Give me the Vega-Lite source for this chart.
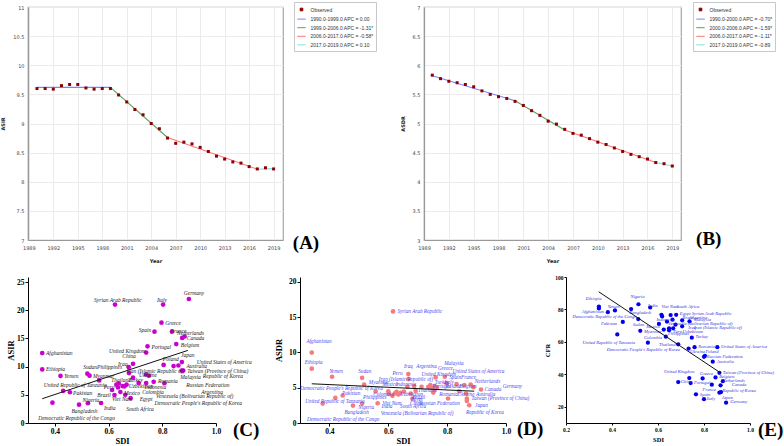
{
"$schema": "https://vega.github.io/schema/vega-lite/v6.json",
"padding": 0,
"background": "white",
"spacing": 11,
"align": "none",
"config": {"view": {"stroke": null}, "font": "Liberation Serif", "axis": {"labelOverlap": false, "labelFlush": false}},
"datasets": {
"aObs": [
{"year":1990,"value":9.60,"series":"Observed"},{"year":1991,"value":9.60,"series":"Observed"},{"year":1992,"value":9.59,"series":"Observed"},{"year":1993,"value":9.65,"series":"Observed"},{"year":1994,"value":9.67,"series":"Observed"},{"year":1995,"value":9.67,"series":"Observed"},{"year":1996,"value":9.61,"series":"Observed"},{"year":1997,"value":9.59,"series":"Observed"},{"year":1998,"value":9.60,"series":"Observed"},{"year":1999,"value":9.60,"series":"Observed"},{"year":2000,"value":9.49,"series":"Observed"},{"year":2001,"value":9.37,"series":"Observed"},{"year":2002,"value":9.24,"series":"Observed"},{"year":2003,"value":9.15,"series":"Observed"},{"year":2004,"value":9.00,"series":"Observed"},{"year":2005,"value":8.91,"series":"Observed"},{"year":2006,"value":8.75,"series":"Observed"},{"year":2007,"value":8.66,"series":"Observed"},{"year":2008,"value":8.68,"series":"Observed"},{"year":2009,"value":8.65,"series":"Observed"},{"year":2010,"value":8.59,"series":"Observed"},{"year":2011,"value":8.52,"series":"Observed"},{"year":2012,"value":8.44,"series":"Observed"},{"year":2013,"value":8.39,"series":"Observed"},{"year":2014,"value":8.34,"series":"Observed"},{"year":2015,"value":8.32,"series":"Observed"},{"year":2016,"value":8.26,"series":"Observed"},{"year":2017,"value":8.22,"series":"Observed"},{"year":2018,"value":8.24,"series":"Observed"},{"year":2019,"value":8.22,"series":"Observed"}
],
"aFit": [
{"year":1990,"value":9.62,"series":"1990.0-1999.0 APC = 0.00"},{"year":1999,"value":9.62,"series":"1990.0-1999.0 APC = 0.00"},
{"year":1999,"value":9.62,"series":"1999.0-2006.0 APC = -1.31*"},{"year":2006,"value":8.76,"series":"1999.0-2006.0 APC = -1.31*"},
{"year":2006,"value":8.76,"series":"2006.0-2017.0 APC = -0.58*"},{"year":2017,"value":8.215,"series":"2006.0-2017.0 APC = -0.58*"},
{"year":2017,"value":8.215,"series":"2017.0-2019.0 APC = 0.10"},{"year":2019,"value":8.225,"series":"2017.0-2019.0 APC = 0.10"}
],
"bObs": [
{"year":1990,"value":5.83,"series":"Observed"},{"year":1991,"value":5.77,"series":"Observed"},{"year":1992,"value":5.725,"series":"Observed"},{"year":1993,"value":5.70,"series":"Observed"},{"year":1994,"value":5.67,"series":"Observed"},{"year":1995,"value":5.63,"series":"Observed"},{"year":1996,"value":5.56,"series":"Observed"},{"year":1997,"value":5.50,"series":"Observed"},{"year":1998,"value":5.46,"series":"Observed"},{"year":1999,"value":5.43,"series":"Observed"},{"year":2000,"value":5.38,"series":"Observed"},{"year":2001,"value":5.31,"series":"Observed"},{"year":2002,"value":5.22,"series":"Observed"},{"year":2003,"value":5.14,"series":"Observed"},{"year":2004,"value":5.04,"series":"Observed"},{"year":2005,"value":4.99,"series":"Observed"},{"year":2006,"value":4.90,"series":"Observed"},{"year":2007,"value":4.83,"series":"Observed"},{"year":2008,"value":4.80,"series":"Observed"},{"year":2009,"value":4.74,"series":"Observed"},{"year":2010,"value":4.68,"series":"Observed"},{"year":2011,"value":4.64,"series":"Observed"},{"year":2012,"value":4.58,"series":"Observed"},{"year":2013,"value":4.52,"series":"Observed"},{"year":2014,"value":4.47,"series":"Observed"},{"year":2015,"value":4.43,"series":"Observed"},{"year":2016,"value":4.39,"series":"Observed"},{"year":2017,"value":4.33,"series":"Observed"},{"year":2018,"value":4.31,"series":"Observed"},{"year":2019,"value":4.27,"series":"Observed"}
],
"bFit": [
{"year":1990,"value":5.82,"series":"1990.0-2000.0 APC = -0.70*"},{"year":2000,"value":5.39,"series":"1990.0-2000.0 APC = -0.70*"},
{"year":2000,"value":5.39,"series":"2000.0-2006.0 APC = -1.59*"},{"year":2006,"value":4.89,"series":"2000.0-2006.0 APC = -1.59*"},
{"year":2006,"value":4.89,"series":"2006.0-2017.0 APC = -1.11*"},{"year":2017,"value":4.33,"series":"2006.0-2017.0 APC = -1.11*"},
{"year":2017,"value":4.33,"series":"2017.0-2019.0 APC = -0.89"},{"year":2019,"value":4.27,"series":"2017.0-2019.0 APC = -0.89"}
],
"cPts": [
{"country":"Afghanistan","sdi":0.353,"asir":12.4,"lx":0.367,"ly":12.35},
{"country":"Ethiopia","sdi":0.353,"asir":9.5,"lx":0.367,"ly":9.5},
{"country":"Yemen","sdi":0.421,"asir":8.35,"lx":0.435,"ly":8.3},
{"country":"Democratic Republic of the Congo","sdi":0.391,"asir":3.6,"lx":0.338,"ly":0.95},
{"country":"United Republic of Tanzania","sdi":0.431,"asir":5.7,"lx":0.359,"ly":6.75},
{"country":"Pakistan","sdi":0.456,"asir":5.45,"lx":0.468,"ly":5.3},
{"country":"Bangladesh","sdi":0.49,"asir":3.25,"lx":0.462,"ly":2.1},
{"country":"Nigeria","sdi":0.523,"asir":3.5,"lx":0.503,"ly":4.15},
{"country":"Sudan","sdi":0.521,"asir":8.75,"lx":0.506,"ly":9.9},
{"country":"Philippines","sdi":0.529,"asir":8.4,"lx":0.557,"ly":9.9},
{"country":"Myanmar","sdi":0.565,"asir":7.55,"lx":0.542,"ly":8.3},
{"country":"India","sdi":0.572,"asir":3.55,"lx":0.583,"ly":2.65},
{"country":"Brazil","sdi":0.613,"asir":5.85,"lx":0.558,"ly":4.95},
{"country":"Viet Nam","sdi":0.622,"asir":4.95,"lx":0.613,"ly":4.2},
{"country":"Syrian Arab Republic","sdi":0.624,"asir":21.0,"lx":0.546,"ly":21.9},
{"country":"Peru","sdi":0.629,"asir":6.8,"lx":0.582,"ly":6.4},
{"country":"Thailand","sdi":0.638,"asir":7.0,"lx":0.61,"ly":7.7},
{"country":"Uzbekistan","sdi":0.635,"asir":6.3,"lx":0.675,"ly":6.5},
{"country":"Mexico","sdi":0.644,"asir":5.5,"lx":0.657,"ly":5.4},
{"country":"Colombia","sdi":0.652,"asir":6.55,"lx":0.725,"ly":5.55},
{"country":"Democratic People's Republic of Korea","sdi":0.659,"asir":6.5,"lx":0.771,"ly":3.55},
{"country":"Indonesia","sdi":0.667,"asir":6.8,"lx":0.734,"ly":6.4},
{"country":"Egypt","sdi":0.662,"asir":5.0,"lx":0.716,"ly":4.2},
{"country":"South Africa","sdi":0.682,"asir":4.4,"lx":0.666,"ly":2.5},
{"country":"Iraq","sdi":0.675,"asir":9.9,"lx":0.635,"ly":10.5},
{"country":"Iran (Islamic Republic of)","sdi":0.676,"asir":8.85,"lx":0.668,"ly":9.2},
{"country":"China","sdi":0.691,"asir":10.5,"lx":0.651,"ly":11.8},
{"country":"Turkey","sdi":0.691,"asir":8.05,"lx":0.672,"ly":7.7},
{"country":"Venezuela (Bolivarian Republic of)","sdi":0.712,"asir":7.1,"lx":0.777,"ly":4.85},
{"country":"Malaysia","sdi":0.74,"asir":8.6,"lx":0.867,"ly":8.1},
{"country":"Ukraine","sdi":0.75,"asir":8.4,"lx":0.713,"ly":8.5},
{"country":"Argentina","sdi":0.74,"asir":7.1,"lx":0.945,"ly":5.55},
{"country":"Romania","sdi":0.768,"asir":7.3,"lx":0.784,"ly":7.45},
{"country":"Russian Federation","sdi":0.808,"asir":7.05,"lx":0.889,"ly":6.7},
{"country":"United Kingdom","sdi":0.74,"asir":12.5,"lx":0.602,"ly":12.8},
{"country":"Portugal","sdi":0.745,"asir":13.6,"lx":0.76,"ly":13.5},
{"country":"Spain","sdi":0.771,"asir":16.2,"lx":0.712,"ly":16.5},
{"country":"Greece","sdi":0.797,"asir":17.8,"lx":0.811,"ly":17.7},
{"country":"Italy","sdi":0.803,"asir":21.0,"lx":0.78,"ly":21.75},
{"country":"France","sdi":0.836,"asir":16.2,"lx":0.831,"ly":16.4},
{"country":"Canada","sdi":0.874,"asir":15.1,"lx":0.891,"ly":15.1},
{"country":"Netherlands","sdi":0.883,"asir":15.35,"lx":0.855,"ly":15.9},
{"country":"Belgium","sdi":0.852,"asir":14.0,"lx":0.869,"ly":13.9},
{"country":"Germany","sdi":0.899,"asir":22.0,"lx":0.88,"ly":23.1},
{"country":"Japan","sdi":0.873,"asir":10.8,"lx":0.87,"ly":12.0},
{"country":"Poland","sdi":0.805,"asir":10.3,"lx":0.802,"ly":11.3},
{"country":"United States of America","sdi":0.842,"asir":10.1,"lx":0.928,"ly":10.9},
{"country":"Australia","sdi":0.86,"asir":10.2,"lx":0.89,"ly":10.05},
{"country":"Taiwan (Province of China)","sdi":0.872,"asir":9.3,"lx":0.893,"ly":9.2},
{"country":"Republic of Korea","sdi":0.878,"asir":9.3,"lx":0.951,"ly":8.3}
],
"cFit": [{"sdi":0.353,"value":4.31},{"sdi":0.895,"value":12.88}],
"dPts": [
{"country":"Afghanistan","sdi":0.34,"asdr":9.98,"lx":0.322,"ly":11.64},
{"country":"Ethiopia","sdi":0.34,"asdr":7.7,"lx":0.316,"ly":8.65},
{"country":"Yemen","sdi":0.409,"asdr":6.56,"lx":0.4,"ly":7.36},
{"country":"Sudan","sdi":0.511,"asdr":6.41,"lx":0.498,"ly":7.36},
{"country":"Myanmar","sdi":0.518,"asdr":5.46,"lx":0.534,"ly":5.75},
{"country":"Philippines","sdi":0.557,"asdr":4.47,"lx":0.514,"ly":3.71},
{"country":"Pakistan","sdi":0.445,"asdr":3.9,"lx":0.443,"ly":4.32},
{"country":"United Republic of Tanzania","sdi":0.42,"asdr":3.56,"lx":0.318,"ly":3.09},
{"country":"Democratic Republic of the Congo","sdi":0.377,"asdr":2.76,"lx":0.324,"ly":0.52},
{"country":"Bangladesh","sdi":0.48,"asdr":2.47,"lx":0.451,"ly":1.52},
{"country":"Nigeria","sdi":0.511,"asdr":2.76,"lx":0.498,"ly":2.28},
{"country":"India","sdi":0.564,"asdr":2.8,"lx":0.577,"ly":2.42},
{"country":"Syrian Arab Republic","sdi":0.616,"asdr":15.82,"lx":0.631,"ly":15.82},
{"country":"Colombia","sdi":0.602,"asdr":4.13,"lx":0.549,"ly":4.09},
{"country":"Brazil","sdi":0.614,"asdr":3.85,"lx":0.682,"ly":3.7},
{"country":"Viet Nam","sdi":0.622,"asdr":4.18,"lx":0.58,"ly":2.9},
{"country":"Peru","sdi":0.628,"asdr":4.42,"lx":0.614,"ly":7.03},
{"country":"Thailand","sdi":0.634,"asdr":4.04,"lx":0.701,"ly":4.66},
{"country":"Uzbekistan","sdi":0.642,"asdr":4.28,"lx":0.64,"ly":4.09},
{"country":"Mexico","sdi":0.653,"asdr":4.47,"lx":0.58,"ly":5.46},
{"country":"Indonesia","sdi":0.665,"asdr":5.13,"lx":0.625,"ly":5.46},
{"country":"Iraq","sdi":0.668,"asdr":6.94,"lx":0.653,"ly":8.08},
{"country":"Iran (Islamic Republic of)","sdi":0.668,"asdr":6.22,"lx":0.568,"ly":6.22},
{"country":"China","sdi":0.688,"asdr":5.23,"lx":0.674,"ly":2.9},
{"country":"Turkey","sdi":0.693,"asdr":4.56,"lx":0.758,"ly":5.84},
{"country":"Egypt","sdi":0.676,"asdr":4.18,"lx":0.676,"ly":3.47},
{"country":"South Africa","sdi":0.682,"asdr":3.47,"lx":0.64,"ly":2.42},
{"country":"Venezuela (Bolivarian Republic of)","sdi":0.713,"asdr":5.13,"lx":0.574,"ly":1.38},
{"country":"Malaysia","sdi":0.736,"asdr":5.13,"lx":0.79,"ly":8.55},
{"country":"Ukraine","sdi":0.743,"asdr":5.37,"lx":0.835,"ly":4.09},
{"country":"Argentina","sdi":0.748,"asdr":4.99,"lx":0.695,"ly":8.08},
{"country":"Romania","sdi":0.753,"asdr":4.32,"lx":0.773,"ly":4.09},
{"country":"Portugal","sdi":0.757,"asdr":5.23,"lx":0.75,"ly":5.23},
{"country":"United Kingdom","sdi":0.761,"asdr":6.46,"lx":0.713,"ly":6.94},
{"country":"Spain","sdi":0.792,"asdr":6.56,"lx":0.807,"ly":6.56},
{"country":"France","sdi":0.798,"asdr":5.6,"lx":0.847,"ly":6.56},
{"country":"Greece","sdi":0.765,"asdr":5.04,"lx":0.769,"ly":7.79},
{"country":"Italy","sdi":0.757,"asdr":4.85,"lx":0.79,"ly":5.84},
{"country":"Netherlands","sdi":0.88,"asdr":5.46,"lx":0.894,"ly":5.94},
{"country":"Belgium","sdi":0.858,"asdr":5.37,"lx":0.841,"ly":5.23},
{"country":"United States of America","sdi":0.832,"asdr":5.51,"lx":0.818,"ly":7.32},
{"country":"Canada","sdi":0.889,"asdr":5.08,"lx":0.928,"ly":4.8},
{"country":"Germany","sdi":0.915,"asdr":4.75,"lx":0.989,"ly":5.27},
{"country":"Australia","sdi":0.864,"asdr":4.18,"lx":0.898,"ly":4.18},
{"country":"Taiwan (Province of China)","sdi":0.867,"asdr":3.13,"lx":0.883,"ly":3.56},
{"country":"Japan","sdi":0.867,"asdr":3.47,"lx":0.895,"ly":2.57},
{"country":"Republic of Korea","sdi":0.875,"asdr":2.52,"lx":0.864,"ly":1.57},
{"country":"Poland","sdi":0.841,"asdr":4.5,"lx":0.795,"ly":5.23},
{"country":"Russian Federation","sdi":0.803,"asdr":3.47,"lx":0.705,"ly":2.9},
{"country":"Democratic People's Republic of Korea","sdi":0.6,"asdr":4.5,"lx":0.301,"ly":4.99}
],
"dFit": [{"sdi":0.34,"value":5.56},{"sdi":0.892,"value":4.51}],
"ePts": [
{"country":"Ethiopia","sdi":0.343,"cfr":81.8,"lx":0.286,"ly":86.4},
{"country":"Afghanistan","sdi":0.343,"cfr":80.6,"lx":0.269,"ly":78.7},
{"country":"Democratic Republic of the Congo","sdi":0.382,"cfr":78.3,"lx":0.228,"ly":75.3},
{"country":"Yemen","sdi":0.413,"cfr":79.4,"lx":0.381,"ly":81.8},
{"country":"Pakistan","sdi":0.447,"cfr":72.3,"lx":0.352,"ly":71.1},
{"country":"United Republic of Tanzania","sdi":0.423,"cfr":64.6,"lx":0.272,"ly":59.5},
{"country":"Bangladesh","sdi":0.483,"cfr":80.2,"lx":0.476,"ly":78.1},
{"country":"Nigeria","sdi":0.515,"cfr":83.2,"lx":0.48,"ly":87.4},
{"country":"Sudan","sdi":0.514,"cfr":74.1,"lx":0.49,"ly":70.6},
{"country":"Myanmar","sdi":0.523,"cfr":66.8,"lx":0.539,"ly":66.4},
{"country":"Democratic People's Republic of Korea","sdi":0.556,"cfr":59.5,"lx":0.377,"ly":54.9},
{"country":"India","sdi":0.566,"cfr":81.2,"lx":0.556,"ly":82.2},
{"country":"Viet Nam","sdi":0.615,"cfr":76.7,"lx":0.615,"ly":81.4},
{"country":"Indonesia","sdi":0.618,"cfr":75.7,"lx":0.593,"ly":73.7},
{"country":"Mexico","sdi":0.604,"cfr":71.1,"lx":0.549,"ly":69.2},
{"country":"Colombia","sdi":0.625,"cfr":67.6,"lx":0.539,"ly":62.6},
{"country":"Philippines","sdi":0.634,"cfr":63.2,"lx":0.644,"ly":64.6},
{"country":"Peru","sdi":0.648,"cfr":67.2,"lx":0.666,"ly":66.4},
{"country":"Uzbekistan","sdi":0.666,"cfr":68.4,"lx":0.707,"ly":66.4},
{"country":"Venezuela (Bolivarian Republic of)","sdi":0.648,"cfr":68.4,"lx":0.644,"ly":71.3},
{"country":"Brazil","sdi":0.663,"cfr":73.7,"lx":0.707,"ly":74.7},
{"country":"South Africa","sdi":0.655,"cfr":76.5,"lx":0.68,"ly":81.4},
{"country":"Egypt","sdi":0.679,"cfr":76.7,"lx":0.695,"ly":77.1},
{"country":"Iraq","sdi":0.676,"cfr":70.6,"lx":0.731,"ly":68.8},
{"country":"Iran (Islamic Republic of)","sdi":0.705,"cfr":69.6,"lx":0.756,"ly":68.4},
{"country":"Argentina","sdi":0.705,"cfr":73.3,"lx":0.735,"ly":75.0},
{"country":"Malaysia","sdi":0.737,"cfr":72.7,"lx":0.756,"ly":73.7},
{"country":"Syrian Arab Republic","sdi":0.639,"cfr":72.5,"lx":0.747,"ly":77.3},
{"country":"Thailand","sdi":0.688,"cfr":58.5,"lx":0.604,"ly":57.9},
{"country":"Turkey","sdi":0.747,"cfr":62.6,"lx":0.763,"ly":62.8},
{"country":"Ukraine","sdi":0.733,"cfr":55.9,"lx":0.739,"ly":53.6},
{"country":"Romania","sdi":0.759,"cfr":56.7,"lx":0.775,"ly":56.7},
{"country":"United States of America","sdi":0.858,"cfr":56.7,"lx":0.874,"ly":56.7},
{"country":"Russian Federation","sdi":0.8,"cfr":50.8,"lx":0.812,"ly":50.8},
{"country":"Poland","sdi":0.804,"cfr":51.4,"lx":0.806,"ly":53.6},
{"country":"Australia","sdi":0.838,"cfr":47.8,"lx":0.855,"ly":47.8},
{"country":"Taiwan (Province of China)","sdi":0.867,"cfr":40.9,"lx":0.882,"ly":40.9},
{"country":"United Kingdom","sdi":0.736,"cfr":37.7,"lx":0.626,"ly":41.3},
{"country":"China","sdi":0.688,"cfr":35.2,"lx":0.699,"ly":35.2},
{"country":"Portugal","sdi":0.742,"cfr":34.6,"lx":0.756,"ly":34.6},
{"country":"Greece","sdi":0.794,"cfr":37.5,"lx":0.782,"ly":40.1},
{"country":"Belgium","sdi":0.85,"cfr":38.1,"lx":0.866,"ly":38.3},
{"country":"Netherlands","sdi":0.882,"cfr":35.8,"lx":0.88,"ly":35.8},
{"country":"Canada","sdi":0.872,"cfr":33.2,"lx":0.921,"ly":33.2},
{"country":"France","sdi":0.834,"cfr":33.6,"lx":0.794,"ly":30.6},
{"country":"Spain","sdi":0.765,"cfr":27.7,"lx":0.782,"ly":27.5},
{"country":"Italy","sdi":0.8,"cfr":24.7,"lx":0.812,"ly":24.5},
{"country":"Republic of Korea","sdi":0.874,"cfr":29.1,"lx":0.88,"ly":29.6},
{"country":"Japan","sdi":0.867,"cfr":28.7,"lx":0.877,"ly":25.5},
{"country":"Germany","sdi":0.896,"cfr":22.5,"lx":0.914,"ly":22.7}
],
"eFit": [{"sdi":0.342,"value":90.9},{"sdi":0.874,"value":40.7}]
},
"vconcat": [
{
"hconcat": [
{
"width": 255, "height": 233,
"view": {"stroke": "#a6a6a6", "strokeWidth": 1.2},
"layer": [
{"data": {"name": "aFit"}, "mark": {"type": "line", "strokeWidth": 1.1},
 "encoding": {
  "x": {"field": "year", "type": "quantitative", "scale": {"domain": [1988.9, 2020.15], "nice": false, "zero": false},
   "axis": {"values": [1989,1992,1995,1998,2001,2004,2007,2010,2013,2016,2019], "tickCount": 50, "format": "d", "title": "Year", "labelOverlap": false, "labelBound": false, "grid": true, "gridColor": "#ebebeb", "ticks": false, "labelPadding": 5, "labelFont": "DejaVu Sans", "labelFontSize": 5, "labelColor": "#444", "domainColor": "#999", "domainWidth": 1.2, "titleFont": "DejaVu Sans", "titleFontSize": 5, "titleFontWeight": "bold", "titleColor": "#222", "titlePadding": 8}},
  "y": {"field": "value", "type": "quantitative", "scale": {"domain": [7, 11], "nice": false, "zero": false},
   "axis": {"values": [7,7.5,8,8.5,9,9.5,10,10.5,11], "tickCount": 50, "format": "~g", "title": "ASIR", "labelOverlap": false, "labelBound": false, "grid": true, "gridColor": "#ebebeb", "ticks": false, "labelPadding": 4, "labelFont": "DejaVu Sans", "labelFontSize": 5, "labelColor": "#444", "domainColor": "#999", "domainWidth": 1.2, "titleFont": "DejaVu Sans", "titleFontSize": 5, "titleFontWeight": "bold", "titleColor": "#222", "titlePadding": 7}},
  "color": {"field": "series", "type": "nominal",
   "scale": {"domain": ["Observed", "1990.0-1999.0 APC = 0.00", "1999.0-2006.0 APC = -1.31*", "2006.0-2017.0 APC = -0.58*", "2017.0-2019.0 APC = 0.10"], "range": ["#8b0000", "#7f7fff", "#5fa05f", "#ff7373", "#80e0e0"]},
   "legend": {"title": null, "orient": "none", "legendX": 266, "legendY": -5, "strokeColor": "#c8c8c8", "fillColor": "#ffffff", "padding": 2.5, "labelFont": "Liberation Sans", "labelFontSize": 5, "labelColor": "#333", "symbolSize": 20, "rowPadding": 0.6, "labelOffset": 4, "symbolType": "stroke", "symbolStrokeWidth": 1,
    "encode": {"symbols": {"update": {"shape": {"signal": "datum.value === 'Observed' ? 'square' : 'stroke'"}, "size": {"signal": "datum.value === 'Observed' ? 7 : 70"}}}}}}
 }},
{"data": {"name": "aObs"}, "mark": {"type": "square", "size": 9, "opacity": 1},
 "encoding": {"x": {"field": "year", "type": "quantitative"}, "y": {"field": "value", "type": "quantitative"}, "color": {"field": "series", "type": "nominal"}}},
{"data": {"values": [{"panel": "(A)"}]}, "mark": {"type": "text", "font": "Liberation Serif", "fontWeight": "bold", "fontSize": 19, "align": "center", "baseline": "middle", "color": "#000"},
 "encoding": {"x": {"datum": 2022.97}, "y": {"datum": 6.95}, "text": {"field": "panel"}}}
]
},
{
"width": 257, "height": 233,
"view": {"stroke": "#a6a6a6", "strokeWidth": 1.2},
"layer": [
{"data": {"name": "bFit"}, "mark": {"type": "line", "strokeWidth": 1.1},
 "encoding": {
  "x": {"field": "year", "type": "quantitative", "scale": {"domain": [1989, 2020.05], "nice": false, "zero": false},
   "axis": {"values": [1989,1992,1995,1998,2001,2004,2007,2010,2013,2016,2019], "tickCount": 50, "format": "d", "title": "Year", "labelOverlap": false, "labelBound": false, "grid": true, "gridColor": "#ebebeb", "ticks": false, "labelPadding": 5, "labelFont": "DejaVu Sans", "labelFontSize": 5, "labelColor": "#444", "domainColor": "#999", "domainWidth": 1.2, "titleFont": "DejaVu Sans", "titleFontSize": 5, "titleFontWeight": "bold", "titleColor": "#222", "titlePadding": 8}},
  "y": {"field": "value", "type": "quantitative", "scale": {"domain": [3, 7], "nice": false, "zero": false},
   "axis": {"values": [3,3.5,4,4.5,5,5.5,6,6.5,7], "tickCount": 50, "format": "~g", "title": "ASDR", "labelOverlap": false, "labelBound": false, "grid": true, "gridColor": "#ebebeb", "ticks": false, "labelPadding": 4, "labelFont": "DejaVu Sans", "labelFontSize": 5, "labelColor": "#444", "domainColor": "#999", "domainWidth": 1.2, "titleFont": "DejaVu Sans", "titleFontSize": 5, "titleFontWeight": "bold", "titleColor": "#222", "titlePadding": 7}},
  "color": {"field": "series", "type": "nominal",
   "scale": {"domain": ["Observed", "1990.0-2000.0 APC = -0.70*", "2000.0-2006.0 APC = -1.59*", "2006.0-2017.0 APC = -1.11*", "2017.0-2019.0 APC = -0.89"], "range": ["#8b0000", "#7f7fff", "#5fa05f", "#ff7373", "#80e0e0"]},
   "legend": {"title": null, "orient": "none", "legendX": 269, "legendY": -5, "strokeColor": "#c8c8c8", "fillColor": "#ffffff", "padding": 2.5, "labelFont": "Liberation Sans", "labelFontSize": 5, "labelColor": "#333", "symbolSize": 20, "rowPadding": 0.6, "labelOffset": 4, "symbolType": "stroke", "symbolStrokeWidth": 1,
    "encode": {"symbols": {"update": {"shape": {"signal": "datum.value === 'Observed' ? 'square' : 'stroke'"}, "size": {"signal": "datum.value === 'Observed' ? 7 : 70"}}}}}}
 }},
{"data": {"name": "bObs"}, "mark": {"type": "square", "size": 9, "opacity": 1},
 "encoding": {"x": {"field": "year", "type": "quantitative"}, "y": {"field": "value", "type": "quantitative"}, "color": {"field": "series", "type": "nominal"}}},
{"data": {"values": [{"panel": "(B)"}]}, "mark": {"type": "text", "font": "Liberation Serif", "fontWeight": "bold", "fontSize": 19, "align": "center", "baseline": "middle", "color": "#000"},
 "encoding": {"x": {"datum": 2023.4}, "y": {"datum": 3.02}, "text": {"field": "panel"}}}
]
}
],
"spacing": 141, "bounds": "flush",
"resolve": {"scale": {"color": "independent"}, "legend": {"color": "independent"}}
},
{
"hconcat": [
{
"width": 188, "height": 146,
"layer": [
{"data": {"name": "cPts"}, "mark": {"type": "circle", "size": 22, "color": "#cc00cc", "opacity": 1},
 "encoding": {
  "x": {"field": "sdi", "type": "quantitative", "scale": {"domain": [0.3, 1.0], "nice": false, "zero": false},
   "axis": {"values": [0.4,0.6,0.8,1.0], "tickCount": 50, "format": ".1f", "title": "SDI", "labelOverlap": false, "grid": false, "labelFont": "Liberation Serif", "labelFontWeight": "bold", "labelFontSize": 7.5, "labelColor": "#000", "titleFont": "Liberation Serif", "titleFontWeight": "bold", "titleFontSize": 8.5, "titleColor": "#000", "domainColor": "#000", "tickColor": "#000", "tickSize": 3, "labelPadding": 1, "titlePadding": 2}},
  "y": {"field": "asir", "type": "quantitative", "scale": {"domain": [0, 25.9], "nice": false},
   "axis": {"values": [0,5,10,15,20,25], "tickCount": 50, "format": "d", "title": "ASIR", "labelOverlap": false, "grid": false, "labelFont": "Liberation Serif", "labelFontWeight": "bold", "labelFontSize": 7.5, "labelColor": "#000", "titleFont": "Liberation Serif", "titleFontWeight": "bold", "titleFontSize": 8.5, "titleColor": "#000", "domainColor": "#000", "tickColor": "#000", "tickSize": 3, "labelPadding": 1, "titlePadding": 1.5}}
 }},
{"data": {"name": "cPts"}, "mark": {"type": "text", "font": "Liberation Serif", "fontStyle": "italic", "fontSize": 5.5, "color": "#222", "align": "left", "baseline": "middle"},
 "encoding": {"x": {"field": "lx", "type": "quantitative"}, "y": {"field": "ly", "type": "quantitative"}, "text": {"field": "country"}}},
{"data": {"name": "cFit"}, "mark": {"type": "line", "color": "#111", "strokeWidth": 1},
 "encoding": {"x": {"field": "sdi", "type": "quantitative"}, "y": {"field": "value", "type": "quantitative"}}},
{"data": {"values": [{"panel": "(C)"}]}, "mark": {"type": "text", "font": "Liberation Serif", "fontWeight": "bold", "fontSize": 19, "align": "center", "baseline": "middle", "color": "#000"},
 "encoding": {"x": {"datum": 1.112}, "y": {"datum": -1.24}, "text": {"field": "panel"}}}
]
},
{
"hconcat": [
{
"width": 206, "height": 146,
"layer": [
{"data": {"name": "dPts"}, "mark": {"type": "circle", "size": 22, "color": "#f47c7c", "opacity": 1},
 "encoding": {
  "x": {"field": "sdi", "type": "quantitative", "scale": {"domain": [0.3, 1.0], "nice": false, "zero": false},
   "axis": {"values": [0.4,0.6,0.8,1.0], "tickCount": 50, "format": ".1f", "title": "SDI", "labelOverlap": false, "grid": false, "labelFont": "Liberation Serif", "labelFontWeight": "bold", "labelFontSize": 7.5, "labelColor": "#000", "titleFont": "Liberation Serif", "titleFontWeight": "bold", "titleFontSize": 8.5, "titleColor": "#000", "domainColor": "#000", "tickColor": "#000", "tickSize": 3, "labelPadding": 1, "titlePadding": 2}},
  "y": {"field": "asdr", "type": "quantitative", "scale": {"domain": [0, 20.7], "nice": false},
   "axis": {"values": [0,5,10,15,20], "tickCount": 50, "format": "d", "title": "ASDR", "labelOverlap": false, "grid": false, "labelFont": "Liberation Serif", "labelFontWeight": "bold", "labelFontSize": 7.5, "labelColor": "#000", "titleFont": "Liberation Serif", "titleFontWeight": "bold", "titleFontSize": 8.5, "titleColor": "#000", "domainColor": "#000", "tickColor": "#000", "tickSize": 3, "labelPadding": 1, "titlePadding": 5}}
 }},
{"data": {"name": "dPts"}, "mark": {"type": "text", "font": "Liberation Serif", "fontStyle": "italic", "fontSize": 5.2, "color": "#4b4bf0", "align": "left", "baseline": "middle"},
 "encoding": {"x": {"field": "lx", "type": "quantitative"}, "y": {"field": "ly", "type": "quantitative"}, "text": {"field": "country"}}},
{"data": {"name": "dFit"}, "mark": {"type": "line", "color": "#111", "strokeWidth": 1},
 "encoding": {"x": {"field": "sdi", "type": "quantitative"}, "y": {"field": "value", "type": "quantitative"}}},
{"data": {"values": [{"panel": "(D)"}]}, "mark": {"type": "text", "font": "Liberation Serif", "fontWeight": "bold", "fontSize": 19, "align": "center", "baseline": "middle", "color": "#000"},
 "encoding": {"x": {"datum": 1.082}, "y": {"datum": -0.85}, "text": {"field": "panel"}}}
]
},
{
"width": 184, "height": 146,
"layer": [
{"data": {"name": "ePts"}, "mark": {"type": "circle", "size": 18, "color": "#0000ee", "opacity": 1},
 "encoding": {
  "x": {"field": "sdi", "type": "quantitative", "scale": {"domain": [0.2, 1.0], "nice": false, "zero": false},
   "axis": {"values": [0.2,0.4,0.6,0.8,1.0], "tickCount": 50, "format": ".1f", "title": "SDI", "labelOverlap": false, "grid": false, "labelFont": "Liberation Serif", "labelFontWeight": "bold", "labelFontSize": 5.5, "labelColor": "#000", "titleFont": "Liberation Serif", "titleFontWeight": "bold", "titleFontSize": 6.5, "titleColor": "#000", "domainColor": "#000", "tickColor": "#000", "tickSize": 2, "labelPadding": 2, "titlePadding": 4}},
  "y": {"field": "cfr", "type": "quantitative", "scale": {"domain": [10, 100], "nice": false, "zero": false},
   "axis": {"values": [20,40,60,80,100], "tickCount": 50, "format": "d", "title": "CFR", "labelOverlap": false, "grid": false, "labelFont": "Liberation Serif", "labelFontWeight": "bold", "labelFontSize": 5.5, "labelColor": "#000", "titleFont": "Liberation Serif", "titleFontWeight": "bold", "titleFontSize": 6.5, "titleColor": "#000", "domainColor": "#000", "tickColor": "#000", "tickSize": 2, "labelPadding": 1, "titlePadding": 4}}
 }},
{"data": {"name": "ePts"}, "mark": {"type": "text", "font": "Liberation Serif", "fontStyle": "italic", "fontSize": 4.6, "color": "#3333dd", "align": "left", "baseline": "middle"},
 "encoding": {"x": {"field": "lx", "type": "quantitative"}, "y": {"field": "ly", "type": "quantitative"}, "text": {"field": "country"}}},
{"data": {"name": "eFit"}, "mark": {"type": "line", "color": "#111", "strokeWidth": 1},
 "encoding": {"x": {"field": "sdi", "type": "quantitative"}, "y": {"field": "value", "type": "quantitative"}}},
{"data": {"values": [{"panel": "(E)"}]}, "mark": {"type": "text", "font": "Liberation Serif", "fontWeight": "bold", "fontSize": 19, "align": "center", "baseline": "middle", "color": "#000"},
 "encoding": {"x": {"datum": 1.09}, "y": {"datum": 5.7}, "text": {"field": "panel"}}}
]
}
],
"spacing": 60, "bounds": "flush"
}
],
"spacing": 84, "bounds": "flush"
}
]
}
